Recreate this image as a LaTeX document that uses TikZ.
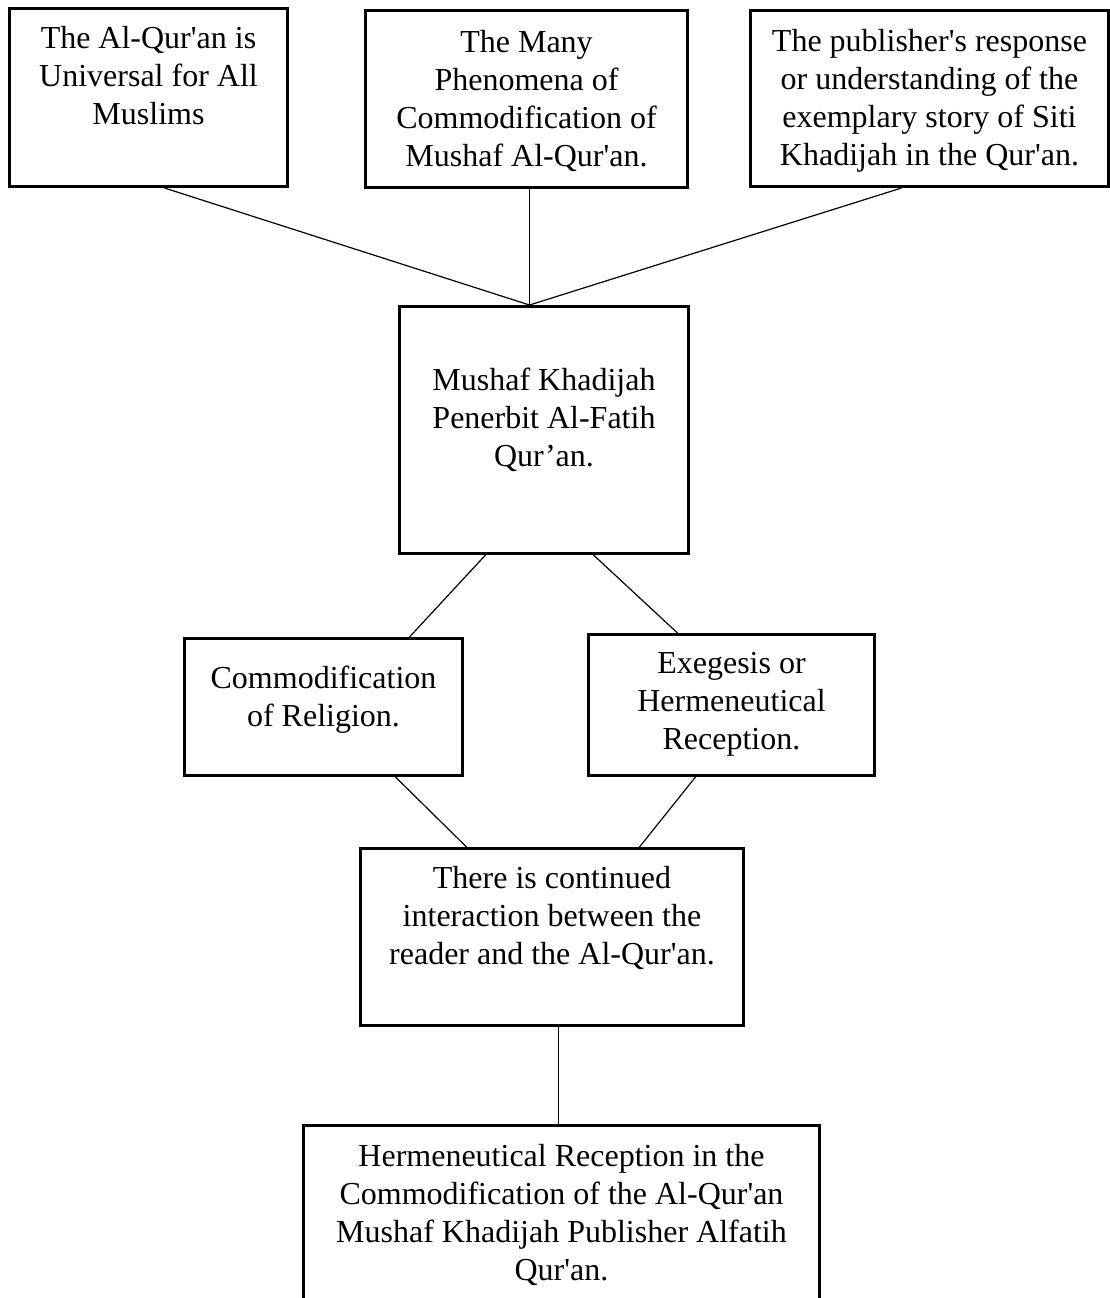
\documentclass[tikz,border=0pt]{standalone}
\usepackage{fontspec}
\setmainfont{Liberation Serif}
\usetikzlibrary{calc}
\newcommand{\bxt}[4]{\parbox[c][#2][t]{#1}{\centering\vspace*{#3}\strut #4}}
\newcommand{\sq}{\textquotesingle}
\begin{document}
\begin{tikzpicture}[x=0.5pt,y=-0.5pt,
  box/.style={draw, line width=1.5pt, inner sep=0pt, rectangle, font=\fontsize{16}{19}\selectfont},
  link/.style={line width=0.6pt}]
\clip (0,0) rectangle (1110,1298);
\fill[white] (0,0) rectangle (1110,1298);

\node[box] (b1) at (148.5,97.5) {\bxt{139pt}{89pt}{6.7pt}{The Al-Qur\sq an is\\Universal for All\\Muslims}};
\node[box] (b2) at (526.5,99) {\bxt{161pt}{88.5pt}{7.7pt}{The Many\\Phenomena of\\Commodification of\\Mushaf Al-Qur\sq an.}};
\node[box] (b3) at (929.5,98.5) {\bxt{179pt}{88pt}{6.95pt}{The publisher\sq s response\\or understanding of the\\exemplary story of Siti\\Khadijah in the Qur\sq an.}};
\node[box] (mid) at (544,430) {\bxt{144.5pt}{123.5pt}{28.45pt}{Mushaf Khadijah\\Penerbit Al-Fatih\\Qur’an.}};
\node[box] (com) at (323.5,707) {\bxt{139pt}{68.5pt}{11.45pt}{Commodification\\of Religion.}};
\node[box] (exe) at (731.5,705) {\bxt{143pt}{70.5pt}{6.3pt}{Exegesis or\\Hermeneutical\\Reception.}};
\node[box] (int) at (552,937) {\bxt{191.5pt}{88.5pt}{6.8pt}{There is continued\\interaction between the\\reader and the Al-Qur\sq an.}};
\node[box] (bot) at (561.5,1222.75) {\bxt{258pt}{97.25pt}{7.2pt}{Hermeneutical Reception in the\\Commodification of the Al-Qur\sq an\\Mushaf Khadijah Publisher Alfatih\\Qur\sq an.}};

\coordinate (apex) at ($(mid.north west)+(131.5,0)$);
\draw[link] ($(b1.south west)+(156.5,0)$) -- (apex);
\draw[link] ($(b2.south west)+(165.5,0)$) -- (apex);
\draw[link] ($(b3.south west)+(152.5,0)$) -- (apex);
\draw[link] ($(mid.south west)+(87.5,0)$) -- ($(com.north west)+(226.5,0)$);
\draw[link] ($(mid.south west)+(195.5,0)$) -- ($(exe.north west)+(90.5,0)$);
\draw[link] ($(com.south west)+(212.5,0)$) -- ($(int.north west)+(107.5,0)$);
\draw[link] ($(exe.south west)+(108.5,0)$) -- ($(int.north west)+(280.5,0)$);
\draw[link] ($(int.south west)+(199.5,0)$) -- ($(bot.north west)+(256.5,0)$);
\end{tikzpicture}
\end{document}
